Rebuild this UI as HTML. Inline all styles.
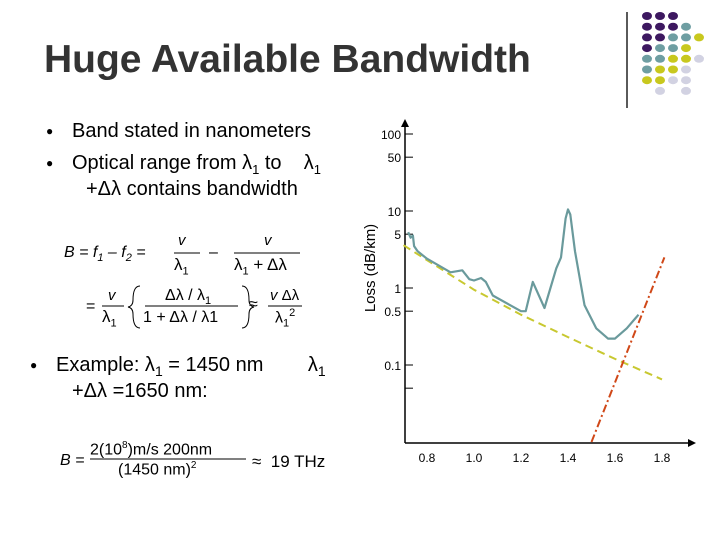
<!DOCTYPE html>
<html><head><meta charset="utf-8"><style>
body{margin:0;background:#fff}
#page{position:relative;width:720px;height:540px;overflow:hidden;font-family:"Liberation Sans",sans-serif;color:#000}
.t{position:absolute;white-space:nowrap}
</style></head><body>
<div id="page">
<svg width="720" height="540" style="position:absolute;left:0;top:0">
<line x1="627" y1="12" x2="627" y2="108" stroke="#000" stroke-width="1.3"/>
<g id="dots"></g>
</svg>
<div class="t" style="left:44px;top:38px;font-size:39px;font-weight:bold;color:#333">Huge Available Bandwidth</div>
<div class="t" style="left:46px;top:124px;font-size:12px">●</div>
<div class="t" style="left:72px;top:120px;font-size:20px">Band stated in nanometers</div>
<div class="t" style="left:46px;top:156px;font-size:12px">●</div>
<div class="t" style="left:72px;top:152px;font-size:20px">Optical range from λ<sub style="font-size:13px">1</sub> to &nbsp;&nbsp; λ<sub style="font-size:13px">1</sub></div>
<div class="t" style="left:86px;top:178px;font-size:20px">+Δλ contains bandwidth</div>
<div class="t" style="left:64px;top:244px;font-size:16px;font-style:italic">B = f<sub style="font-size:11px">1</sub> – f<sub style="font-size:11px">2</sub> =</div>
<div class="t" style="left:178px;top:232px;font-size:15px;font-style:italic">v</div>
<div class="t" style="left:174px;top:255px;font-size:17px">λ<sub style="font-size:11px">1</sub></div>
<div class="t" style="left:209px;top:244px;font-size:16px">–</div>
<div class="t" style="left:264px;top:232px;font-size:15px;font-style:italic">v</div>
<div class="t" style="left:234px;top:255px;font-size:17px">λ<sub style="font-size:11px">1</sub> + Δλ</div>
<div class="t" style="left:86px;top:298px;font-size:16px">=</div>
<div class="t" style="left:108px;top:287px;font-size:15px;font-style:italic">v</div>
<div class="t" style="left:102px;top:307px;font-size:17px">λ<sub style="font-size:11px">1</sub></div>
<div class="t" style="left:165px;top:287px;font-size:16px">Δλ / λ<sub style="font-size:11px">1</sub></div>
<div class="t" style="left:143px;top:309px;font-size:16px">1 + Δλ / λ1</div>
<div class="t" style="left:249px;top:296px;font-size:16px">≈</div>
<div class="t" style="left:270px;top:287px;font-size:15px"><i>v</i> Δλ</div>
<div class="t" style="left:275px;top:307px;font-size:16px">λ<sub style="font-size:11px">1</sub><sup style="font-size:11px">2</sup></div>
<svg width="720" height="540" style="position:absolute;left:0;top:0">
<line x1="174" y1="253" x2="200" y2="253" stroke="#000"/>
<line x1="234" y1="253" x2="300" y2="253" stroke="#000"/>
<line x1="102" y1="306" x2="124" y2="306" stroke="#000"/>
<line x1="145" y1="306" x2="238" y2="306" stroke="#000"/>
<line x1="268" y1="306" x2="302" y2="306" stroke="#000"/>
<path d="M140 286 Q133 286 133 300 Q133 306 128 307 Q133 308 133 314 Q133 328 140 328" fill="none" stroke="#000"/>
<path d="M242 286 Q249 286 249 300 Q249 306 254 307 Q249 308 249 314 Q249 328 242 328" fill="none" stroke="#000"/>
<line x1="90" y1="459" x2="246" y2="459" stroke="#000"/>
</svg>
<div class="t" style="left:30px;top:358px;font-size:12px">●</div>
<div class="t" style="left:56px;top:354px;font-size:20px">Example: λ<sub style="font-size:14px">1</sub> = 1450 nm &nbsp;&nbsp;&nbsp;&nbsp;&nbsp;&nbsp;&nbsp;λ<sub style="font-size:14px">1</sub></div>
<div class="t" style="left:72px;top:380px;font-size:20px">+Δλ =1650 nm:</div>
<div class="t" style="left:60px;top:452px;font-size:16px;font-style:italic">B =</div>
<div class="t" style="left:90px;top:440px;font-size:16px">2(10<sup style="font-size:10px">8</sup>)m/s 200nm</div>
<div class="t" style="left:118px;top:460px;font-size:16px">(1450 nm)<sup style="font-size:10px">2</sup></div>
<div class="t" style="left:252px;top:452px;font-size:17px">≈ &nbsp;19 THz</div>
<svg id="chart" width="720" height="540" style="position:absolute;left:0;top:0"></svg>
</div>
<script>
const NS='http://www.w3.org/2000/svg';
function mk(p,t,a){const e=document.createElementNS(NS,t);for(const k in a)e.setAttribute(k,a[k]);p.appendChild(e);return e;}
const dotRows=["PPP","PPPT","PPTTY","PTTY","TTYYL","TYYL","YYLL","_L_L"];
const dotCol={P:"#3d1860",T:"#6e9ea2",Y:"#c8c81e",L:"#d2d2e2"};
const dg=document.getElementById('dots');
dotRows.forEach((r,i)=>{[...r].forEach((c,j)=>{if(c==='_')return;
const e=mk(dg,'ellipse',{cx:647+j*13,cy:16+i*10.7,rx:5,ry:4,fill:dotCol[c]});

});});
const lossX=[0.72,0.73,0.74,0.745,0.76,0.8,0.9,0.95,0.98,1.0,1.03,1.05,1.08,1.2,1.22,1.25,1.3,1.35,1.37,1.39,1.4,1.41,1.43,1.47,1.52,1.57,1.6,1.65,1.7];
const lossY=[5.3,4.5,4.8,3.5,3.0,2.4,1.6,1.7,1.3,1.25,1.35,1.2,0.8,0.5,0.5,1.2,0.55,1.8,2.5,8,10.5,9,3,0.6,0.3,0.22,0.22,0.3,0.45];
const rayX=[0.7,0.8,1.0,1.2,1.4,1.6,1.8];
const rayY=[3.6,2.3,0.95,0.45,0.23,0.12,0.065];
const irX=[1.5,1.81];
const irY=[0.01,2.5];
const yTicks=[100,50,10,5,1,0.5,0.1,0.05];
const yLabels=["100","50","10","5","1","0.5","0.1",""];
const xTicks=[0.8,1.0,1.2,1.4,1.6,1.8];
const xLabels=["0.8","1.0","1.2","1.4","1.6","1.8"];
const sx=v=>427+(v-0.8)*235;
const sy=v=>288-77*Math.log10(v);
const c=document.getElementById('chart');
let a=mk(c,'line',{x1:405,y1:125,x2:405,y2:443,stroke:'#000','stroke-width':1.5});
a=mk(c,'line',{x1:405,y1:443,x2:690,y2:443,stroke:'#000','stroke-width':1.5});
mk(c,'path',{d:'M688 439 L696 443 L688 447Z',fill:'#000'});
mk(c,'path',{d:'M401 127 L405 119 L409 127Z',fill:'#000'});
yTicks.forEach((v,i)=>{const y=sy(v);
const l=mk(c,'line',{x1:405,y1:y,x2:413,y2:y,stroke:'#000'});


const t=mk(c,'text',{x:401,y:y+5,'text-anchor':'end','font-size':12,'font-family':'Liberation Sans,sans-serif'});t.textContent=yLabels[i];

});
xTicks.forEach((v,i)=>{const t=mk(c,'text',{x:sx(v),y:462,'text-anchor':'middle','font-size':12,'font-family':'Liberation Sans,sans-serif'});t.textContent=xLabels[i];

});
const yt=mk(c,'text',{x:0,y:0,transform:'translate(375,268) rotate(-90)','text-anchor':'middle','font-size':15,'font-family':'Liberation Sans,sans-serif'});yt.textContent='Loss (dB/km)';


const pts=(X,Y)=>X.map((x,i)=>sx(x).toFixed(1)+','+sy(Y[i]).toFixed(1)).join(' ');
let p=mk(c,'polyline',{points:pts(rayX,rayY),fill:'none',stroke:'#c8c830','stroke-width':2,'stroke-dasharray':'8,5'});


p=mk(c,'polyline',{points:pts(irX,irY),fill:'none',stroke:'#d04818','stroke-width':2,'stroke-dasharray':'8,3,2,3'});


p=mk(c,'polyline',{points:pts(lossX,lossY),fill:'none',stroke:'#6a9a9c','stroke-width':2.2,'stroke-linejoin':'round'});


</script>
</body></html>
